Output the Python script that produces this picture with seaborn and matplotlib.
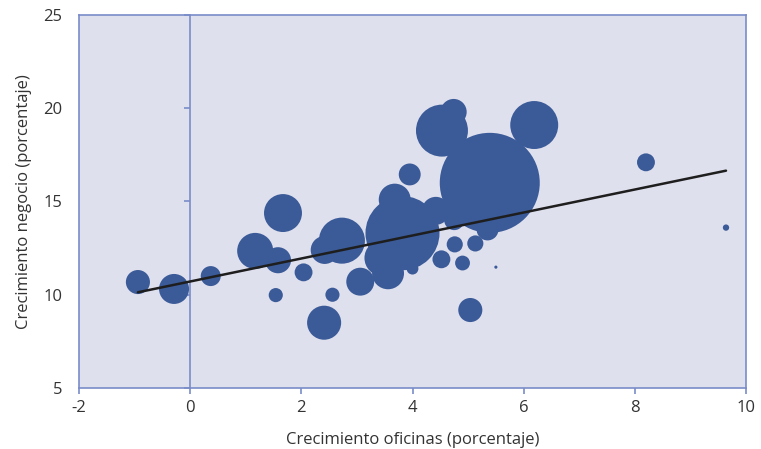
import numpy as np
import pandas as pd
import seaborn as sns
import matplotlib.pyplot as plt

# crecimiento de oficinas (x), crecimiento del negocio (y) y peso relativo de cada entidad (tamaño burbuja)
crec_oficinas = [-0.94, -0.29, 0.37, 1.17, 1.58, 1.67, 2.04, 1.54, 2.41, 2.56, 2.42,
                 2.73, 3.06, 3.56, 3.82, 3.68, 3.95, 4.53, 4.74, 5.39, 6.19, 8.20,
                 9.64, 5.50, 5.04, 4.52, 4.90, 4.76, 5.13, 5.35, 4.42, 4.75, 4.00, 3.46]
crec_negocio = [10.68, 10.31, 11.0, 12.35, 11.85, 14.38, 11.2, 9.98, 8.5, 10.0, 12.4,
                12.9, 10.7, 11.15, 13.3, 15.1, 16.45, 18.8, 19.8, 16.0, 19.1, 17.1,
                13.6, 11.48, 9.18, 11.9, 11.7, 12.7, 12.75, 13.5, 14.5, 14.0, 11.4, 11.97]
peso = [5.8, 9.0, 4.0, 13.0, 6.8, 14.4, 3.2, 2.0, 11.6, 2.0, 7.8,
        21.2, 7.8, 10.2, 54.8, 10.2, 4.8, 27.0, 6.8, 100.0, 23.0, 3.2,
        0.4, 0.1, 5.8, 3.2, 2.2, 2.6, 2.6, 4.8, 7.8, 4.0, 1.4, 13.0]

df = pd.DataFrame({'oficinas': crec_oficinas, 'negocio': crec_negocio, 'peso': peso})

azul = '#3a5a98'
borde = '#7a8cc8'
fondo = '#dfe0ee'
texto = '#333333'

sns.set_style('white')
plt.rcParams['font.family'] = ['Open Sans', 'DejaVu Sans']
plt.rcParams['axes.unicode_minus'] = False

fig = plt.figure(figsize=(7.61, 4.49), dpi=100)
ax = fig.add_axes([0.1038, 0.1359, 0.8765, 0.8307])
ax.set_facecolor(fondo)

sns.scatterplot(data=df, x='oficinas', y='negocio', size='peso', sizes=(0, 5184),
                size_norm=(0, 100), color=azul, linewidth=0, alpha=1,
                legend=False, ax=ax, zorder=3)
sns.regplot(data=df, x='oficinas', y='negocio', scatter=False, ci=None,
            color='#1e1e1e', line_kws={'linewidth': 1.8, 'zorder': 4}, ax=ax)

ax.set_xlim(-2, 10)
ax.set_ylim(5, 25)
ax.set_xticks(range(-2, 11, 2))
ax.set_yticks(range(5, 26, 5))

for s in ax.spines.values():
    s.set_visible(True)
    s.set_color(borde)
    s.set_linewidth(1.2)

ax.tick_params(axis='x', direction='out', length=4, width=1.2, color=borde,
               labelsize=12, labelcolor=texto, pad=5, bottom=True)
ax.tick_params(axis='y', length=0, labelsize=12, labelcolor=texto, pad=12, left=True)

# eje vertical cruzando en x = 0
sec = ax.secondary_yaxis(1 / 6)
sec.set_yticks(range(5, 26, 5))
sec.tick_params(axis='y', direction='out', length=4, width=1.2, color=borde, labelleft=False, labelright=False)
sec.spines['left'].set_color(borde)
sec.spines['left'].set_linewidth(1.2)
for k in ('right', 'top', 'bottom'):
    sec.spines[k].set_visible(False)

ax.set_xlabel('Crecimiento oficinas (porcentaje)', fontsize=12, color=texto, labelpad=11)
ax.set_ylabel('Crecimiento negocio (porcentaje)', fontsize=12, color=texto, labelpad=8)

fig.savefig('out.png', dpi=100)
